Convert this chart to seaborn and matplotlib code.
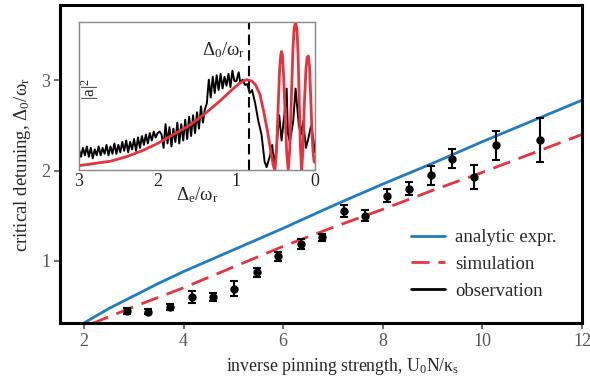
import numpy as np
import pandas as pd
import matplotlib
matplotlib.use('Agg')
import matplotlib.pyplot as plt
import seaborn as sns
from matplotlib.lines import Line2D

# main panel: curves
analytic_x = [1.97, 2.5, 3.0, 3.5, 4.0, 5.0, 6.0, 7.0, 8.0, 9.0, 10.0, 11.0, 12.0]
analytic_y = [0.30, 0.47, 0.61, 0.75, 0.88, 1.12, 1.36, 1.61, 1.85, 2.08, 2.32, 2.55, 2.78]
sim_x = [2.15, 3.0, 4.0, 5.0, 6.0, 7.0, 8.0, 9.0, 10.0, 11.0, 12.0]
sim_y = [0.30, 0.49, 0.70, 0.93, 1.16, 1.37, 1.57, 1.78, 1.98, 2.19, 2.40]

# main panel: observations
obs_x = [2.86, 3.28, 3.72, 4.17, 4.60, 5.02, 5.47, 5.90, 6.35, 6.78, 7.22, 7.65,
         8.09, 8.53, 8.96, 9.40, 9.84, 10.27, 11.15]
obs_y = [0.44, 0.435, 0.49, 0.60, 0.60, 0.69, 0.87, 1.05, 1.185, 1.26, 1.55, 1.50,
         1.72, 1.80, 1.95, 2.13, 1.93, 2.28, 2.34]
obs_err = [0.035, 0.03, 0.035, 0.07, 0.045, 0.08, 0.055, 0.05, 0.055, 0.04, 0.07, 0.06,
           0.07, 0.07, 0.105, 0.105, 0.13, 0.16, 0.245]

# inset: simulated |a|^2 (red)
red_x = [3.0, 2.8, 2.6, 2.4, 2.2, 2.0, 1.8, 1.6, 1.4, 1.2, 1.05, 0.95, 0.87, 0.80,
         0.75, 0.70, 0.65, 0.60, 0.56, 0.53, 0.51, 0.49, 0.47, 0.45, 0.435, 0.425,
         0.415, 0.40, 0.38, 0.36, 0.34, 0.32, 0.30, 0.28, 0.265, 0.247, 0.23, 0.215,
         0.20, 0.185, 0.17, 0.155, 0.135, 0.115, 0.10, 0.085, 0.07, 0.055, 0.04,
         0.025, 0.012, 0.0]
red_y = [0.03, 0.045, 0.06, 0.09, 0.13, 0.18, 0.24, 0.30, 0.38, 0.47, 0.545, 0.59,
         0.61, 0.60, 0.57, 0.51, 0.39, 0.25, 0.12, 0.03, 0.0, 0.12, 0.40, 0.68,
         0.78, 0.80, 0.78, 0.65, 0.38, 0.12, 0.0, 0.15, 0.50, 0.82, 0.96, 1.0, 0.95,
         0.78, 0.45, 0.15, 0.0, 0.12, 0.45, 0.68, 0.76, 0.77, 0.70, 0.50, 0.28,
         0.12, 0.06, 0.05]

# inset: observed |a|^2 (black), left part sampled every 0.025 from 3.0 down
black_left = [0.14, 0.09, 0.15, 0.10, 0.16, 0.09, 0.15, 0.08, 0.14, 0.10,
              0.16, 0.10, 0.15, 0.11, 0.17, 0.10, 0.16, 0.11, 0.18, 0.11,
              0.17, 0.12, 0.19, 0.13, 0.20, 0.12, 0.19, 0.14, 0.21, 0.13,
              0.22, 0.15, 0.23, 0.17, 0.24, 0.18, 0.25, 0.20, 0.26, 0.22,
              0.25, 0.26, 0.24, 0.15, 0.31, 0.18, 0.29, 0.16, 0.28, 0.19,
              0.32, 0.18, 0.31, 0.20, 0.34, 0.21, 0.36, 0.23, 0.37, 0.25,
              0.39, 0.28, 0.43, 0.32, 0.41, 0.45, 0.61, 0.49, 0.63, 0.52,
              0.64, 0.54, 0.65, 0.55, 0.63, 0.57, 0.65, 0.56, 0.67, 0.60]
black_right_x = [1.0, 0.97, 0.95, 0.92, 0.89, 0.86, 0.83, 0.80, 0.76, 0.72, 0.68,
                 0.64, 0.615, 0.57, 0.544, 0.52, 0.49, 0.455, 0.425, 0.39, 0.36,
                 0.345, 0.32, 0.277, 0.247, 0.205, 0.18, 0.15, 0.115, 0.086, 0.05,
                 0.03, 0.0]
black_right_y = [0.60, 0.66, 0.59, 0.61, 0.575, 0.58, 0.52, 0.54, 0.45, 0.33, 0.24,
                 0.056, 0.02, 0.10, 0.17, 0.034, 0.15, 0.37, 0.20, 0.37, 0.55, 0.25,
                 0.19, 0.33, 0.55, 0.30, 0.24, 0.33, 0.15, 0.21, 0.30, 0.24, 0.12]
delta0_inset = 0.84

blue = '#1f7cc4'
red = '#e8333f'
gray = '#555555'
sim_dash = (0, (6.5, 3.2))

sns.set_theme(style='ticks')
plt.rcParams['font.family'] = ['Liberation Serif', 'DejaVu Serif']
plt.rcParams['mathtext.fontset'] = 'custom'
plt.rcParams['mathtext.rm'] = 'Liberation Serif'
plt.rcParams['mathtext.it'] = 'Liberation Serif:italic'

fig = plt.figure(figsize=(5.9, 3.84), dpi=100)
ax = fig.add_axes([0.1017, 0.1589, 0.8847, 0.8268])

sns.lineplot(x=analytic_x, y=analytic_y, ax=ax, color=blue, lw=2.0, sort=False)
sns.lineplot(x=sim_x, y=sim_y, ax=ax, color=red, lw=2.0, sort=False,
             linestyle=sim_dash)
ax.errorbar(obs_x, obs_y, yerr=obs_err, fmt='o', color='black', ms=5,
            elinewidth=1.5, capsize=3, capthick=1.5)

ax.set_xlim(1.52, 12)
ax.set_ylim(0.31, 3.83)
ax.set_xticks([2, 4, 6, 8, 10, 12])
ax.set_yticks([1, 2, 3])
ax.tick_params(axis='both', direction='out', length=4, width=1.2, color=gray,
               labelcolor=gray, labelsize=13, pad=3)
for s in ax.spines.values():
    s.set_linewidth(2.2)
    s.set_color('black')
ax.set_xlabel('inverse pinning strength, U$_0$N/κ$_\\mathrm{s}$', fontsize=12.8,
              labelpad=4)
ax.xaxis.set_label_coords(0.542, -0.105)
ax.set_ylabel('critical detuning, Δ$_0$/ω$_\\mathrm{r}$', fontsize=13.5, labelpad=6)

handles = [Line2D([], [], color=blue, lw=2.0),
           Line2D([], [], color=red, lw=2.0, linestyle=sim_dash),
           Line2D([], [], color='black', lw=2.0)]
fig.legend(handles, ['analytic expr.', 'simulation', 'observation'],
           loc='upper left', bbox_to_anchor=(411 / 590, 1 - 229 / 384),
           frameon=False, fontsize=13.5, handlelength=1.8, handletextpad=0.55,
           labelspacing=0.52, borderpad=0, borderaxespad=0)

# inset
ins = fig.add_axes([0.1339, 0.557, 0.400, 0.386])
black_x = np.arange(len(black_left)) * -0.025 + 3.0
sns.lineplot(x=list(black_x) + black_right_x, y=black_left + black_right_y, ax=ins,
             color='black', lw=1.4, sort=False)
sns.lineplot(x=red_x, y=red_y, ax=ins, color=red, lw=2.0, sort=False)
ins.axvline(delta0_inset, color='black', lw=1.5, linestyle=(0, (5, 2.5)))
ins.set_xlim(3, 0)
ins.set_ylim(0, 1.0)
ins.set_xticks([3, 2, 1, 0])
ins.set_yticks([])
ins.tick_params(axis='x', length=0, labelsize=13, labelcolor='#222222', pad=2)
for s in ins.spines.values():
    s.set_linewidth(1.0)
    s.set_color('#888888')
ins.set_xlabel('Δ$_\\mathrm{e}$/ω$_\\mathrm{r}$', fontsize=13.5, labelpad=-3)
ins.text(0.047, 0.55, '|a|$^2$', transform=ins.transAxes, rotation=90,
         ha='center', va='center', fontsize=12.5)
ins.text(0.705, 0.81, 'Δ$_0$/ω$_\\mathrm{r}$', transform=ins.transAxes,
         ha='right', va='center', fontsize=13.5)

fig.savefig('out.png', dpi=100)
